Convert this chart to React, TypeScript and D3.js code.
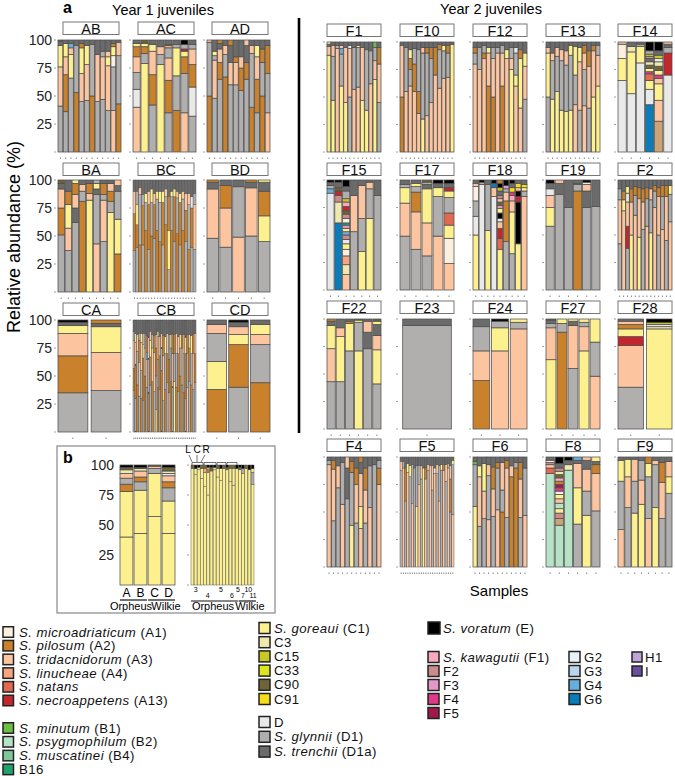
import React from "react";
import * as d3 from "d3";

const COLORS: Record<string, string> = {
  A1: "#FDEFDF", A2: "#C9812C", A3: "#FCC59F", A4: "#F7A57E", An: "#E2694F", A13: "#C1272D",
  B1: "#6DBE45", B2: "#B6E2C6", B4: "#7FC79A", B16: "#1FA36E",
  C1: "#FDF08E", C3: "#EFE9AE", C15: "#C9C823", C33: "#DCE51F", C90: "#6F6339", C91: "#F6DC19",
  D: "#E9E9E9", D1: "#B1AEAE", D1a: "#6B6B6B", E: "#000000",
  F1: "#F6AABB", F2: "#C98B8B", F3: "#E497C8", F4: "#DF3A87", F5: "#A0194B",
  G2: "#E9F1F9", G3: "#B9D5EE", G4: "#67AEDC", G6: "#0B7CBA", H1: "#C0A5D8", I: "#6A4FA0",
  X: "#CBA475",
};

// ---------- Year 1 juveniles ----------
const AB = [
  "D1:41,A3:35,C1:19,D1a:4,C90:1", "D1:36,A2:33,A3:16,C1:12,D1a:3", "D1:66,C1:21,A3:6,G4:4,D1a:3",
  "A2:53,D1:42,D1a:5", "D1:45,A3:25,C1:23,A2:4,D1a:3", "D1:46,A3:32,C1:17,D1a:5", "A2:50,D1:46,D1a:4",
  "D1:45,A3:42,D1a:13", "D1:47,A3:38,D1:5,D1a:10", "D1:37,A3:40,C1:8,A3:5,D1a:10",
  "A3:37,D1:39,A1:10,C1:8,A2:3,D1a:3", "A2:43,D1:43,A3:12,D1a:2",
];
const AC = [
  "A3:40,D:16,D1:15,A3:14,A2:9,C1:3,D1a:3", "C1:79,D1:9,A2:6,C1:3,C90:3", "D1:42,A2:27,A3:21,C1:6,D1a:4",
  "C1:78,D1:9,A3:7,D1a:6", "D1:35,A2:29,A3:20,D1:9,A4:2,B1:1,D1a:4", "A2:37,D1:31,C1:25,D1:3,D1a:4",
  "A3:35,D1:35,A2:15,C1:5,A13:2,D1:4,E:4", "D1:32,D:26,A2:20,A3:14,D1:4,D1a:4",
];
const AD = [
  "A2:50,D1:48,A3:2", "D1:48,A3:34,D1:4,C1:4,D1a:10", "D1:65,A2:15,A3:12,D1a:5,A2:3", "A2:67,D1:20,A3:8,D1a:5",
  "D1:60,A3:20,D1a:15,A2:5", "D1:60,A3:20,A2:5,D1a:15", "D1:55,A2:20,A3:10,D1a:15", "D1:65,A2:15,D1a:15,A3:5",
  "A2:40,D1:48,A3:7,D1a:5", "D1:35,A2:30,A3:20,C1:10,D1a:5", "A2:50,D1:30,A2:12,D1a:8", "A3:35,D1:35,A2:25,D1a:5",
];
const BA = [
  "D1:51,A2:24,A3:17,D1a:5,C90:3", "D1:37,A3:20,C1:21,A2:12,D1a:10", "D1:62,D1a:13,A3:12,A2:10,C1:3",
  "A2:81,D1:9,A3:6,D1a:4", "C1:82,A3:6,A2:9,D1a:3", "A3:43,D1:44,D1a:5,C1:5,D1:3",
  "D1:45,A3:37,D1:5,A2:10,D1a:3", "C1:71,D1:10,A2:9,A3:7,D1a:3", "A2:34,C1:31,D1:25,D1a:5,A3:5",
];
const BC = [
  "D1:37,A2:33,A3:20,D1a:10", "D1:40,A2:20,C1:18,D1:12,D1a:10", "A2:42,D1:45,A3:6,D1a:7", "D1:42,A2:35,D1:10,D1a:13",
  "A2:55,D1:25,C1:8,D1a:12", "D1:38,A2:40,A3:12,D1a:10", "A2:50,D1:30,C1:12,D1a:8", "D1:48,A2:30,A3:10,D1a:12",
  "A2:55,D1:28,C1:7,D1a:10", "A2:45,D1:35,C1:10,D1a:10", "D1:42,A2:38,C1:10,D1a:10", "A2:60,D1:25,A3:7,D1a:8",
  "D1:20,C1:35,A2:30,D1a:15", "A2:55,D1:30,C1:5,D1a:10", "D1:45,A2:40,C1:7,D1a:8", "A2:52,D1:32,A3:6,D1a:10",
  "D1:42,A2:38,C1:8,D1a:12", "A2:55,D1:28,A3:7,D1a:10", "D1:45,A2:28,A3:15,D1a:12", "A2:38,D1:40,A3:10,D1a:12",
  "D1:40,A2:35,D:10,D1a:15", "D1:38,A3:40,D1:10,D1a:12",
];
const BD = [
  "D1:48,A3:44,D1a:6,A2:2", "D1:40,A3:35,A2:20,D1a:5", "A3:49,D1:45,D1a:6", "D1:50,A3:43,D1a:5,A2:2",
  "D1:45,C1:23,A2:22,D1a:8,C1:2",
];
const CA = ["D1:35,A2:33,A3:20,C1:7,D1a:3,E:2", "D1:37,A3:34,C1:23,D1a:3,A2:3"];
const CB = [
  "D1:37,A2:20,A3:25,D1:8,D1a:10", "D1:30,A2:30,A3:20,C1:8,D1a:12", "A2:42,D1:30,A3:15,D1a:13",
  "D1:32,A3:30,A2:20,D1:6,D1a:12", "A2:30,D1:25,A3:25,C1:8,D1a:12", "D1:28,A2:38,C1:12,A3:10,D1a:12",
  "A2:50,A3:25,D1:13,D1a:12", "D1:40,A3:25,G4:6,A2:15,D1a:14", "A2:35,D1:30,A3:20,D1a:15",
  "D1:42,A2:25,C1:15,A3:8,D1a:10", "A2:45,A3:30,D1:12,D1a:13", "D1:36,A3:35,A2:15,D1a:14",
  "C1:20,D1:30,A2:25,A3:12,D1a:13", "A2:40,D1:25,A3:20,C1:5,D1a:10", "D1:38,A2:30,A3:17,D1a:15",
  "A2:55,D1:20,A3:13,D1a:12", "D1:28,A3:40,A2:18,D1a:14", "A2:38,D1:32,C1:15,D1a:15",
  "D1:44,A2:26,A3:18,D1a:12", "A3:35,A2:30,D1:22,D1a:13", "A2:45,D1:30,C1:12,D1a:13",
  "D1:40,A3:30,A2:18,D1a:12", "C1:45,D1:25,A2:17,D1a:13", "A2:40,D1:30,A3:18,D1a:12",
  "D1:36,A2:34,A3:15,D1a:15", "A2:50,D1:25,C1:12,D1a:13", "D1:42,A3:33,A2:12,D1a:13",
  "A2:35,D1:35,A3:17,D1a:13", "D1:30,A2:40,C1:15,D1a:15", "A3:40,D1:30,A2:17,D1a:13",
  "D1:45,A2:30,A3:12,D1a:13", "A2:42,D1:28,C1:16,D1a:14", "D1:38,A3:32,A2:17,D1a:13", "D1:44,A2:26,A3:18,D1a:12",
];
const CD = [
  "A2:38,C1:25,D1:25,A3:8,D1a:4", "D1:40,A2:38,C1:9,A3:7,D1a:4,E:2", "A2:44,D1:34,A3:9,C1:9,D1a:4",
];

// ---------- Year 2 juveniles ----------
const F1 = [
  "C1:88,A3:8,D1a:2,C1:2", "C1:47,D1:40,A3:10,D1a:3", "A3:94,D1:3,D1a:3", "C1:60,D1:29,G4:5,A3:3,D1a:3",
  "C1:45,A3:50,D1a:5", "D1:50,A3:44,D:3,D1a:3", "A3:57,D1:38,D1a:5", "A3:59,D1:36,C1:2,D1a:3",
  "C1:47,A3:48,D1a:5", "C1:38,D1:55,D1a:7", "A3:62,D1:30,D1a:8", "C1:66,A3:17,D1:12,B1:5",
  "D1:45,A3:35,A2:15,D1a:5",
];
const F10 = [
  "A2:50,A3:47,D1a:3", "A3:55,D1:40,D1a:5", "A3:60,D1:15,A2:10,C1:8,D1a:7", "A3:55,A2:25,D1:14,D1a:6",
  "A3:35,A2:20,D1:38,D1a:7", "C1:30,D1:60,A3:5,D1a:5", "A3:33,D1:57,A2:5,D1a:5", "A3:45,D1:40,A2:10,D1a:5",
  "A3:70,A2:25,D1a:5", "A3:58,D1:35,A2:5,D1a:2", "A3:67,D1:25,C1:5,D1a:3", "A3:68,D1:22,A2:7,D1a:3", "C1:98,D1a:2",
];
const F12 = [
  "A3:80,D1:10,A2:5,D1a:5", "A3:75,D1:20,D1a:5", "A3:85,A2:5,D1:7,D1a:3", "A2:60,A3:30,C1:5,D1a:5",
  "A2:50,A3:35,D1:10,D1a:5", "A3:90,D1:5,D1a:5", "A2:60,A3:30,D1:7,D1a:3", "A3:85,C1:8,D1a:7",
  "C1:75,A3:10,D1:10,D1a:5", "A3:60,C1:10,D1:20,D:5,D1a:5", "A3:40,C1:45,A2:8,D1a:7", "D1:48,A3:30,C1:12,D1a:10",
];
const F13 = [
  "D1:50,C1:40,A3:5,D1a:5", "C1:48,D1:35,A3:7,D1a:10", "C1:55,D1:32,A3:8,D1a:5", "C1:38,D1:45,A3:10,D1a:7",
  "C1:37,D1:42,A3:13,D1a:8", "C1:38,D1:50,C1:9,D1a:3", "A3:43,D1:27,C1:26,D1a:4", "D1:38,A3:44,C1:13,D1a:5",
  "A3:42,D1:33,A3:15,A2:7,D1a:3", "D1:40,A3:38,A2:14,D1a:8", "C1:50,A3:42,A2:5,D1a:3", "C1:60,A3:28,D1:9,D1a:3",
];
const F14 = [
  "D:65,C1:20,A1:13,A3:2", "D:53,C1:38,C3:5,D1a:4", "D:81,C1:15,D1:2,D1a:2",
  "G6:43,D:14,C1:8,An:6,F4:2,C1:3,C90:3,C3:3,D1a:3,F2:2,C15:2,D1:3,E:8",
  "X:28,A3:19,C1:15,A3:5,F4:3,C1:4,C90:4,C3:4,D:3,C15:3,D1a:4,E:8", "D:70,A13:20,D1:5,D1a:3,A3:2",
];
const F15 = [
  "D:88,G4:4,D1:3,D1a:3,E:2", "G6:61,C3:19,F2:6,A13:4,C90:3,D1a:5,E:2",
  "A3:14,C3:9,A4:8,A1:6,C1:5,D:4,F2:4,G4:3,C1:3,F3:3,B16:2,A1:4,F2:4,C90:3,A13:4,F1:4,C15:3,D1:7,D1a:4,E:6",
  "D1:53,A3:33,D1a:14", "C1:35,D1:30,A3:30,D1a:5", "C1:65,D1:27,A3:6,D1a:2", "D1:86,D1a:14",
];
const F17 = [
  "D1:49,A3:30,C1:14,D1:3,D1a:4", "D1:37,A3:34,A2:18,D1:5,C1:3,D1a:3", "D1:31,A3:30,C1:31,D1a:4,D1:2,C90:2",
  "A3:49,D1:36,C1:8,D1a:4,E:3", "A3:24,A1:23,C1:12,An:11,D1:14,C1:6,A13:3,D1a:4,E:3",
];
const F18 = [
  "C1:50,D:17,D1:14,A1:13,A3:3,D1a:3", "D:96,D1:2,E:2", "C1:54,D1:42,D1a:4", "D:85,A3:8,G6:4,E:3",
  "C1:37,An:10,A13:9,A3:6,D:3,E:5,C1:4,F3:3,C90:3,A3:3,F2:3,D1a:4,C15:3,E:4,A2:3",
  "D1:44,A2:37,A3:8,D1:3,F3:3,E:5", "D1:33,C1:38,A3:10,F1:5,F4:3,C91:4,D1a:4,E:3",
  "C1:42,E:38,A13:5,E:5,A3:3,C91:4,D1a:3", "A3:85,D1:5,C1:3,C91:3,D1a:4",
];
const F19 = [
  "D1:58,C1:17,A3:11,D:6,D1a:5,E:3", "D1:87,D1a:10,A3:3", "D1:75,D1a:25", "A2:90,D1:6,B1:1,D1a:3",
  "D1:75,D1a:15,A3:6,D:2,E:2", "D1:76,D1a:24",
];
const F2 = [
  "D1:42,A3:40,D1:10,D1a:8", "A3:72,C1:10,A2:8,D1a:10", "D1:38,A13:20,A3:22,D:8,C1:6,D1a:6",
  "C1:50,A3:30,A2:12,D1a:8", "A3:68,D1:18,A2:8,D1a:6", "C1:48,A3:35,A2:10,D1a:7", "D1:55,A3:25,A2:12,D1a:8",
  "A3:58,D1:25,A2:10,D1a:7", "C1:52,D1:30,A3:10,D1a:8", "A3:75,D1:15,A2:5,D1a:5", "D1:50,A3:35,A2:8,D1a:7",
  "A3:55,D1:30,A2:10,D1a:5", "D1:45,A3:40,A2:10,D1a:5", "A3:62,D1:25,C1:8,D1a:5",
];
const F22 = [
  "D1:43,A3:30,C1:21,D1a:4,A2:2", "D1:43,C1:41,A3:8,D1a:8", "D1:71,C1:25,A2:2,D1a:2", "C1:71,D1:26,C1:2,D1a:1",
  "D1:73,D1a:15,A3:10,D1a:2", "D1:41,C1:31,A3:13,D1a:10,C1:3,C90:2",
];
const F23 = ["D1:94,D1a:6"];
const F24 = ["A2:44,A3:27,D1:22,D1a:7", "A3:71,C1:21,D1:6,E:2", "A3:91,D1:6,C1:3"];
const F27 = [
  "C1:63,A3:29,D1:4,D1a:3,C90:1", "A2:88,D1:8,C1:4", "D1:55,A3:39,D1a:4,C1:2", "C1:71,A3:22,D1:4,C1:3",
  "A3:48,D1:31,C1:21",
];
const F28 = ["D1:38,A3:38,A13:8,C1:7,A2:4,A3:3,D1a:2", "C1:91,C3:2,D:2,C15:2,E:3"];
const F4 = [
  "A3:93,D1:4,D1a:3", "D1:42,A3:47,A2:8,D1a:3", "D1:72,A3:20,D1a:8", "A3:57,D1:38,D1a:5", "D1:62,D1a:28,A3:10",
  "C1:38,D1:48,A2:10,D1a:4", "D1:40,A3:35,A2:15,D1a:10", "A3:35,C1:20,A3:30,D1a:10,A2:5",
  "D1:40,A3:30,A2:20,D1a:10", "A3:54,D1:38,D1a:8", "D1:93,D1a:7", "A3:75,A2:15,D1:7,D1a:3",
];
const F5 = [
  "D1:88,A3:8,D1a:4", "A3:90,D1:6,D1a:4", "D1:60,A2:30,D1a:10", "A3:86,C1:8,D1a:6", "D1:82,C1:10,D1a:8",
  "A3:58,D1:35,D1a:7", "D1:90,D1a:10", "C1:55,D1:37,D1a:8", "A3:75,D1:17,D1a:8", "D1:80,A3:12,D1a:8",
  "C1:90,D1a:10", "A3:80,A2:10,D1a:10", "D1:88,A3:5,D1a:7", "A3:92,D1a:8", "D1:70,A3:22,D1a:8",
  "A3:85,D:5,D1a:10", "D1:85,A3:8,D1a:7", "A3:60,D1:32,D1a:8", "D1:88,C1:5,D1a:7", "A3:88,A2:5,D1a:7",
  "D1:78,A3:15,D1a:7", "A3:90,D1:4,D1a:6", "D1:50,A2:30,A3:12,D1a:8", "A3:48,D1:45,C1:4,D1a:3",
];
const F6 = [
  "C1:55,D1:38,B1:3,D1a:4", "D1:37,A3:45,C1:10,D1a:8", "D1:44,A3:25,C1:25,D1a:6", "A3:43,D1:40,A3:10,D1a:7",
  "D1:46,A3:25,A2:20,D1a:9", "A3:52,D1:38,A2:5,D1a:5", "A2:50,D1:20,A3:25,D1a:5", "D1:45,A3:45,A2:7,D1a:3",
  "A2:82,A3:10,D1a:8", "A2:90,D1:5,D1a:5", "D1:45,A3:35,A2:15,D1a:5", "A3:47,D1:43,D1a:10",
];
const F8 = [
  "B2:85,An:5,A3:3,F2:2,A1:2,D1a:3",
  "B2:38,X:6,F2:5,C1:4,B2:5,A3:4,C1:4,A1:3,F4:3,F5:3,A2:3,F1:3,C90:3,C3:3,F2:3,D1a:4,E:6",
  "B2:88,C3:5,D1a:4,E:3", "D1:39,C1:33,A3:22,D1a:3,G4:3", "C1:47,D1:22,A3:20,D1a:8,A3:3",
  "D1:51,A3:34,A2:8,D1a:3,C1:4",
];
const F9 = [
  "A3:34,D1:44,C1:19,D1a:3", "D1:54,A3:28,C1:16,D1a:2", "C1:49,D1:29,A3:20,D1a:2", "C1:57,A3:22,D1:18,D1a:3",
  "A3:44,D1:38,C1:12,A2:6", "C1:54,D1:39,A3:4,D1a:3", "D1:44,A3:33,A2:18,D1a:5", "D1:67,C1:15,A3:14,D1a:4",
];

// ---------- panel b ----------
const B_LEFT = [
  "C1:40,C1:38,A2:6,D1:5,A3:4,C3:3,C90:2,E:2", "C1:43,C1:36,D1:7,A2:4,A3:5,C3:2,C90:1,E:2",
  "C1:57,C1:36,D1:4,A3:2,C90:1", "C1:43,C1:27,D1:11,A2:5,A3:5,D:2,C3:2,C90:3,E:2",
];
const B_LEFT_LABELS = ["A", "B", "C", "D"];
const B_RIGHT = [
  "C1:97,C90:3", "C1:92,C1:5,E:3", "C1:96,C3:2,E:2", "C1:89,C1:8,C90:3", "C1:82,C1:12,A4:3,C90:3",
  "C1:75,C1:19,An:2,C15:2,E:2", "C1:95,C90:3,E:2", "C1:96,C3:2,E:2", "C1:90,C1:7,C90:3", "C1:87,C1:10,E:3",
  "C1:97,C90:3", "C1:96,C90:2,E:2", "C1:86,C1:11,C90:3", "C1:83,C1:14,C90:3", "C1:97,E:3",
  "C1:96,C90:2,E:2", "C1:93,D1:4,E:3", "C1:97,C90:3", "C1:96,E:4", "C1:84,D1:10,C1:3,E:3",
];
const B_RIGHT_NUMS: [string, number, number][] = [
  ["3", 1.5, 0], ["4", 5.3, 1], ["5", 9.5, 0], ["6", 12.9, 1], ["5", 14.8, 0], ["7", 16.4, 1], ["10", 18.1, 0], ["11", 19.6, 1],
];
const Y_TICKS = [0, 25, 50, 75, 100];
const Y_LABELS = [25, 50, 75, 100];

// ---------- legend ----------
const LEG_A = [["A1", "S. microadriaticum", " (A1)"], ["A2", "S. pilosum", " (A2)"], ["A3", "S. tridacnidorum", " (A3)"],
  ["A4", "S. linucheae", " (A4)"], ["An", "S. natans", ""], ["A13", "S. necroappetens", " (A13)"]];
const LEG_B = [["B1", "S. minutum", " (B1)"], ["B2", "S. psygmophilum", " (B2)"], ["B4", "S. muscatinei", " (B4)"], ["B16", "", "B16"]];
const LEG_C = [["C1", "S. goreaui", " (C1)"], ["C3", "", "C3"], ["C15", "", "C15"], ["C33", "", "C33"], ["C90", "", "C90"], ["C91", "", "C91"]];
const LEG_D = [["D", "", "D"], ["D1", "S. glynnii", " (D1)"], ["D1a", "S. trenchii", " (D1a)"]];
const LEG_E = [["E", "S. voratum", " (E)"]];
const LEG_F = [["F1", "S. kawagutii", " (F1)"], ["F2", "", "F2"], ["F3", "", "F3"], ["F4", "", "F4"], ["F5", "", "F5"]];
const LEG_G = [["G2", "", "G2"], ["G3", "", "G3"], ["G4", "", "G4"], ["G6", "", "G6"]];
const LEG_H = [["H1", "", "H1"], ["I", "", "I"]];

const FONT = "'Liberation Sans', Arial, Helvetica, sans-serif";

function parseBar(s: string) {
  const segs = s.split(",").map((p) => {
    const [k, v] = p.split(":");
    return { k, v: +v };
  });
  const tot = d3.sum(segs, (d) => d.v);
  let acc = 0;
  return segs.map((d) => {
    const y0 = (acc / tot) * 100;
    acc += d.v;
    return { k: d.k, y0, y1: (acc / tot) * 100 };
  });
}

function Bars({ bars, x, w, top, bottom, dots = true, ticks = true, labels = false, pad }: any) {
  const dense = (w / bars.length) < 3.2;
  const p = pad !== undefined ? pad : dense ? 0 : 0.1;
  const xs = d3.scaleBand<number>().domain(d3.range(bars.length)).range([x, x + w]).paddingInner(p);
  const ys = d3.scaleLinear().domain([0, 100]).range([bottom, top]);
  const bw = xs.bandwidth();
  const sw = dense ? 0.45 : 0.75;
  return (
    <g>
      {ticks && Y_TICKS.map((t) => (
        <line key={"t" + t} x1={x - 4} x2={x - 2} y1={ys(t)} y2={ys(t)} stroke="#888" strokeWidth={0.8} />
      ))}
      {labels && Y_LABELS.map((t) => (
        <text key={"l" + t} x={x - 6} y={ys(t)} dy="0.36em" textAnchor="end" fontSize={14} fontFamily={FONT} fill="#222">{t}</text>
      ))}
      {bars.map((b: string, i: number) => (
        <g key={i}>
          {parseBar(b).map((s, j) => (
            <rect key={j} x={xs(i)} width={bw} y={ys(s.y1)} height={ys(s.y0) - ys(s.y1)}
              fill={COLORS[s.k]} stroke="#4d4d4d" strokeWidth={sw} />
          ))}
          {dots && <line x1={(xs(i) as number) + bw / 2} x2={(xs(i) as number) + bw / 2} y1={bottom + 5.5} y2={bottom + 7}
            stroke="#666" strokeWidth={0.8} />}
        </g>
      ))}
    </g>
  );
}

function Strip({ x, y, w, label }: any) {
  return (
    <g>
      <rect x={x} y={y} width={w} height={12.5} fill="#fff" stroke="#777" strokeWidth={1} />
      <text x={x + w / 2} y={y + 11.6} textAnchor="middle" fontSize={14.5} fontFamily={FONT} fill="#111">{label}</text>
    </g>
  );
}

function Legend({ items, x, y, step, size = 10.5, tx }: any) {
  return (
    <g>
      {items.map((it: string[], i: number) => {
        const cy = y + i * step;
        return (
          <g key={it[0]}>
            <rect x={x} y={cy - size / 2} width={size} height={size} fill={COLORS[it[0]]} stroke="#222" strokeWidth={1.5} />
            <text x={tx} y={cy + 4.6} fontSize={13.2} letterSpacing={0.45} fontFamily={FONT} fill="#111">
              {it[1] && <tspan fontStyle="italic">{it[1]}</tspan>}
              <tspan>{it[2]}</tspan>
            </text>
          </g>
        );
      })}
    </g>
  );
}

export default function App() {
  const leftCols = [58, 133, 207];
  const leftTops = [40, 180, 320];
  const leftStrips = [22, 163, 303];
  const leftGrid: [string, string[]][][] = [
    [["AB", AB], ["AC", AC], ["AD", AD]],
    [["BA", BA], ["BC", BC], ["BD", BD]],
    [["CA", CA], ["CB", CB], ["CD", CD]],
  ];
  const rightCols = [327, 400, 473, 546, 618];
  const rightTops = [42, 180, 319, 457];
  const rightStrips = [24, 163, 301, 439];
  const rightGrid: [string, string[]][][] = [
    [["F1", F1], ["F10", F10], ["F12", F12], ["F13", F13], ["F14", F14]],
    [["F15", F15], ["F17", F17], ["F18", F18], ["F19", F19], ["F2", F2]],
    [["F22", F22], ["F23", F23], ["F24", F24], ["F27", F27], ["F28", F28]],
    [["F4", F4], ["F5", F5], ["F6", F6], ["F8", F8], ["F9", F9]],
  ];

  const bxL = d3.scaleBand<number>().domain(d3.range(B_LEFT.length)).range([120, 175]).paddingInner(0.08);
  const bxR = d3.scaleBand<number>().domain(d3.range(B_RIGHT.length)).range([191, 254]).paddingInner(0.1);
  const bRc = (i: number) => (bxR(Math.floor(i)) as number) + bxR.step() * (i - Math.floor(i));

  return (
    <svg width={675} height={776} style={{ position: "absolute", left: 0, top: 0, background: "#fff" }}
      fontFamily={FONT}>
      <rect x={0} y={0} width={675} height={776} fill="#fff" />
      <text x={63} y={13} fontSize={16} fontWeight="bold">a</text>
      <text x={163} y={15} textAnchor="middle" fontSize={14.5}>Year 1 juveniles</text>
      <text x={491} y={14} textAnchor="middle" fontSize={14.5}>Year 2 juveniles</text>
      <text transform="translate(20,237) rotate(-90)" textAnchor="middle" fontSize={18}>Relative abundance (%)</text>
      <line x1={299} x2={299} y1={18} y2={433} stroke="#000" strokeWidth={2.6} />

      {leftGrid.map((row, r) => row.map(([name, bars], c) => (
        <g key={name}>
          <Strip x={leftCols[c] + 5} y={leftStrips[r]} w={56} label={name} />
          <Bars bars={bars} x={leftCols[c]} w={63} top={leftTops[r]} bottom={leftTops[r] + 112} labels={c === 0} />
        </g>
      )))}

      {rightGrid.map((row, r) => row.map(([name, bars], c) => (
        <g key={name}>
          <Strip x={rightCols[c]} y={rightStrips[r]} w={54} label={name} />
          <Bars bars={bars} x={rightCols[c]} w={54} top={rightTops[r]} bottom={rightTops[r] + 110} />
        </g>
      )))}
      <text x={499} y={596} textAnchor="middle" fontSize={15}>Samples</text>

      {/* panel b */}
      <rect x={57} y={446} width={218} height={167} fill="none" stroke="#888" strokeWidth={1.2} />
      <text x={63} y={463} fontSize={16} fontWeight="bold">b</text>
      <Bars bars={B_LEFT} x={120} w={55} top={465} bottom={585} labels={true} ticks={false} dots={false} pad={0.08} />
      <Bars bars={B_RIGHT} x={191} w={63} top={465} bottom={585} dots={false} pad={0.1} />
      {B_LEFT_LABELS.map((l, i) => (
        <text key={l} x={(bxL(i) as number) + bxL.bandwidth() / 2} y={597} textAnchor="middle" fontSize={12}>{l}</text>
      ))}
      {B_RIGHT_NUMS.map(([l, i, row], k) => (
        <text key={k} x={bRc(i)} y={592 + row * 6} textAnchor="middle" fontSize={7}>{l}</text>
      ))}
      <line x1={bxL(0)} x2={(bxL(1) as number) + bxL.bandwidth()} y1={600} y2={600} stroke="#111" strokeWidth={1.2} />
      <line x1={bxL(2)} x2={(bxL(3) as number) + bxL.bandwidth()} y1={600} y2={600} stroke="#111" strokeWidth={1.2} />
      <line x1={bxR(0)} x2={bRc(14.9)} y1={601} y2={601} stroke="#111" strokeWidth={1.2} />
      <line x1={bRc(15.1)} x2={256} y1={601} y2={601} stroke="#111" strokeWidth={1.2} />
      <text x={131} y={610} textAnchor="middle" fontSize={11}>Orpheus</text>
      <text x={166} y={610} textAnchor="middle" fontSize={11}>Wilkie</text>
      <text x={213} y={610} textAnchor="middle" fontSize={11}>Orpheus</text>
      <text x={250} y={610} textAnchor="middle" fontSize={11}>Wilkie</text>
      <text x={188} y={453} textAnchor="middle" fontSize={10}>L</text>
      <text x={197} y={453} textAnchor="middle" fontSize={10}>C</text>
      <text x={206} y={453} textAnchor="middle" fontSize={10}>R</text>
      <line x1={189} y1={455} x2={192} y2={462} stroke="#333" strokeWidth={0.7} />
      <line x1={197} y1={455} x2={197} y2={462} stroke="#333" strokeWidth={0.7} />
      <line x1={205} y1={455} x2={201} y2={462} stroke="#333" strokeWidth={0.7} />
      {[[192, 203], [204, 216], [217, 226], [227, 237]].map(([a, b], k) => (
        <path key={k} d={`M${a},465 V462.5 H${b} V465`} fill="none" stroke="#333" strokeWidth={0.7} />
      ))}

      {/* legend */}
      <Legend items={LEG_A} x={3} y={632} step={13.7} tx={19} />
      <Legend items={LEG_B} x={3} y={728} step={13.8} tx={19} />
      <Legend items={LEG_C} x={259} y={628} step={14.2} size={11} tx={274} />
      <Legend items={LEG_D} x={259} y={722} step={14.8} size={11} tx={274} />
      <Legend items={LEG_E} x={428} y={628} step={14} size={12} tx={443} />
      <Legend items={LEG_F} x={428} y={657} step={14} size={11} tx={443} />
      <Legend items={LEG_G} x={569} y={657} step={14} size={11} tx={584} />
      <Legend items={LEG_H} x={632} y={657} step={14} size={10} tx={645} />
    </svg>
  );
}
